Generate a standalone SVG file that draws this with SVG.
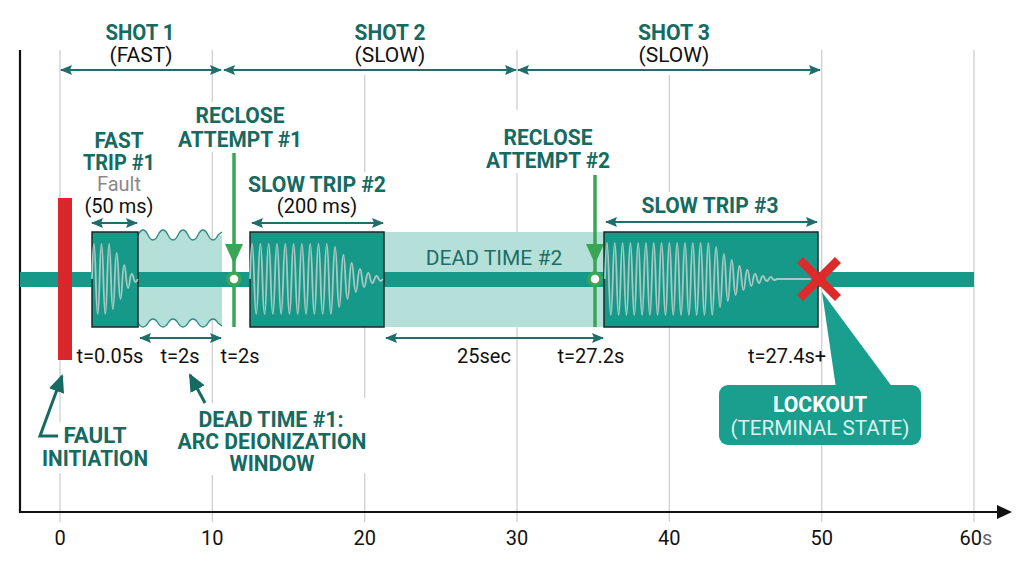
<svg xmlns="http://www.w3.org/2000/svg" width="1024" height="572" viewBox="0 0 1024 572">
<style>
.grid{stroke:#cfcfcf;stroke-width:1.3;fill:none}
.b{font-family:Roboto,"Liberation Sans",sans-serif;font-weight:700;fill:#156a62;font-size:22px;text-anchor:middle}
.r{font-family:Roboto,"Liberation Sans",sans-serif;font-weight:400;fill:#111;font-size:20px;text-anchor:middle}
.dim{stroke:#1f6e6a;stroke-width:2;fill:none;marker-start:url(#ah);marker-end:url(#ah)}
.box{fill:#17998a;stroke:#1a2a28;stroke-width:1.5}
.light{fill:#b5e0da}
.wave{fill:none;stroke:#a8c8c3;stroke-width:1.8;stroke-linejoin:round}
.green{stroke:#3aa655;stroke-width:3.5;fill:none}
.gfill{fill:#3aa655}
.ring{fill:#fff;stroke:#3aa655;stroke-width:3.5}
.call{stroke:#156a62;stroke-width:3;fill:none;marker-end:url(#big)}
</style>
<defs>
<marker id="ah" markerUnits="userSpaceOnUse" markerWidth="12" markerHeight="10" refX="11" refY="5" orient="auto-start-reverse" viewBox="0 0 12 10">
<path d="M0,0 L12,5 L0,10 L2,5 z" fill="#1f6e6a"/>
</marker>
<marker id="big" markerUnits="userSpaceOnUse" markerWidth="18" markerHeight="16" refX="16" refY="8" orient="auto" viewBox="0 0 18 16">
<path d="M0,0 L18,8 L0,16 z" fill="#156a62"/>
</marker>
</defs>
<rect width="1024" height="572" fill="#fff"/>

<g id="grid">
<path class="grid" d="M60,50 V422 M60,473 V522"/>
<path class="grid" d="M212.3,50 V102 M212.3,152 V403 M212.3,475 V522"/>
<path class="grid" d="M364.7,75 V172 M364.7,327 V398 M364.7,473 V522"/>
<path class="grid" d="M517,50 V110 M517,173 V522"/>
<path class="grid" d="M669.3,75 V192 M669.3,327 V522"/>
<path class="grid" d="M821.7,50 V522"/>
<path class="grid" d="M974,50 V522"/>
</g>

<g id="axes">
<line x1="20" y1="50" x2="20" y2="513" stroke="#111" stroke-width="2.2"/>
<line x1="19" y1="512" x2="1000" y2="512" stroke="#111" stroke-width="2.2"/>
<path d="M997,505 L1012,512 L997,519 z" fill="#111"/>
<text class="r" x="60" y="545">0</text>
<text class="r" x="212.3" y="545">10</text>
<text class="r" x="364.7" y="545">20</text>
<text class="r" x="517" y="545">30</text>
<text class="r" x="669.3" y="545">40</text>
<text class="r" x="821.7" y="545">50</text>
<text class="r" x="976" y="545">60<tspan fill="#666">s</tspan></text>
</g>

<g id="shots">
<text class="b" x="140" y="40" textLength="69" lengthAdjust="spacingAndGlyphs">SHOT 1</text>
<text class="r" x="141" y="62" style="font-size:21px">(FAST)</text>
<text class="b" x="390" y="40" textLength="71" lengthAdjust="spacingAndGlyphs">SHOT 2</text>
<text class="r" x="390" y="62" style="font-size:21px">(SLOW)</text>
<text class="b" x="674" y="40" textLength="72" lengthAdjust="spacingAndGlyphs">SHOT 3</text>
<text class="r" x="674" y="62" style="font-size:21px">(SLOW)</text>
</g>

<g id="connectors">
<line class="dim" x1="61" y1="70" x2="221" y2="70"/>
<line class="dim" x1="224" y1="70" x2="516" y2="70"/>
<line class="dim" x1="518" y1="70" x2="820" y2="70"/>
<line class="dim" x1="92" y1="223" x2="137" y2="223"/>
<line class="dim" x1="252" y1="223" x2="383" y2="223"/>
<line class="dim" x1="606" y1="222" x2="817" y2="222"/>
<line class="dim" x1="140" y1="338" x2="221" y2="338"/>
<line class="dim" x1="386" y1="338" x2="603" y2="338"/>
<polyline class="call" points="58,436 40,436 62,376"/>
<line class="call" x1="205" y1="403" x2="190" y2="375"/>
</g>

<g id="dead-time-1">
<path class="light" d="M138,235 q5,-10 10,0 q5,10 10,0 q5,-10 10,0 q5,10 10,0 q5,-10 10,0 q5,10 10,0 q5,-10 10,0 q5,10 10,0 L222,235 L222,327 L218,323 q-5,-8 -10,0 q-5,8 -10,0 q-5,-8 -10,0 q-5,8 -10,0 q-5,-8 -10,0 q-5,8 -10,0 q-5,-8 -10,0 q-5,8 -10,0 z"/>
<path fill="none" stroke="#2a8a80" stroke-width="1.3" d="M138,235 q5,-10 10,0 q5,10 10,0 q5,-10 10,0 q5,10 10,0 q5,-10 10,0 q5,10 10,0 q5,-10 10,0 q5,10 10,0 l4,-3"/>
<path fill="none" stroke="#2a8a80" stroke-width="1.3" d="M138,323 q5,8 10,0 q5,-8 10,0 q5,8 10,0 q5,-8 10,0 q5,8 10,0 q5,-8 10,0 q5,8 10,0 q5,-8 10,0 l4,3"/>
</g>

<g id="dead-time-2">
<rect class="light" x="384" y="232" width="220" height="95"/>
<text class="r" x="494" y="265" style="font-size:21px;fill:#1c6e66">DEAD TIME #2</text>
</g>

<g id="main-line">
<rect x="20" y="272" width="954" height="15" fill="#17998a"/>
</g>

<g id="fault-initiation">
<rect x="58" y="198" width="14" height="162" fill="#d8262b"/>
<text class="b" x="95" y="443" textLength="63" lengthAdjust="spacingAndGlyphs">FAULT</text>
<text class="b" x="95" y="466" textLength="106" lengthAdjust="spacingAndGlyphs">INITIATION</text>
<text class="r" x="110" y="363">t=0.05s</text>
</g>

<g id="fast-trip-1">
<text class="b" x="119" y="148" textLength="49" lengthAdjust="spacingAndGlyphs">FAST</text>
<text class="b" x="119" y="170" textLength="72" lengthAdjust="spacingAndGlyphs">TRIP #1</text>
<text class="r" x="119" y="191" style="fill:#8a8a8a">Fault</text>
<text class="r" x="119" y="213">(50 ms)</text>
<rect class="box" x="92" y="232" width="46" height="95"/>
<path class="wave" d="M92,279 q1.9,-70 3.8,0 q1.9,70 3.8,0 q1.9,-70 3.8,0 q1.9,70 3.8,0 q1.9,-70 3.8,0 q1.9,60 3.8,0 q1.9,-52 3.8,0 q1.9,40 3.8,0 q1.9,-28 3.8,0 q1.9,18 3.8,0 q1.9,-10 3.8,0 q1.9,6 3.8,0"/>
</g>

<g id="dead-time-1-label">
<text class="r" x="180" y="363">t=2s</text>
<text class="b" x="271" y="427" textLength="145" lengthAdjust="spacingAndGlyphs">DEAD TIME #1:</text>
<text class="b" x="272" y="449" textLength="189" lengthAdjust="spacingAndGlyphs">ARC DEIONIZATION</text>
<text class="b" x="272" y="471" textLength="85" lengthAdjust="spacingAndGlyphs">WINDOW</text>
</g>

<g id="reclose-1">
<text class="b" x="240" y="123" textLength="89" lengthAdjust="spacingAndGlyphs">RECLOSE</text>
<text class="b" x="240" y="147" textLength="124" lengthAdjust="spacingAndGlyphs">ATTEMPT #1</text>
<line class="green" x1="234" y1="153" x2="234" y2="327"/>
<path class="gfill" d="M225,244 L243,244 L234,264 z"/>
<circle class="ring" cx="234" cy="279" r="6"/>
<text class="r" x="240" y="363">t=2s</text>
</g>

<g id="slow-trip-2">
<text class="b" x="317" y="192" textLength="138" lengthAdjust="spacingAndGlyphs">SLOW TRIP #2</text>
<text class="r" x="317" y="213">(200 ms)</text>
<rect class="box" x="250" y="232" width="134" height="95"/>
<path class="wave" d="M250,279 q2.075,-70 4.15,0 q2.075,70 4.15,0 q2.075,-70 4.15,0 q2.075,70 4.15,0 q2.075,-70 4.15,0 q2.075,70 4.15,0 q2.075,-70 4.15,0 q2.075,70 4.15,0 q2.075,-70 4.15,0 q2.075,70 4.15,0 q2.075,-70 4.15,0 q2.075,70 4.15,0 q2.075,-70 4.15,0 q2.075,70 4.15,0 q2.075,-70 4.15,0 q2.075,70 4.15,0 q2.075,-70 4.15,0 q2.075,70 4.15,0 q2.075,-70 4.15,0 q2.075,70 4.15,0 q2.075,-64 4.15,0 q2.075,56 4.15,0 q2.075,-48 4.15,0 q2.075,40 4.15,0 q2.075,-32 4.15,0 q2.075,26 4.15,0 q2.075,-20 4.15,0 q2.075,16 4.15,0 q2.075,-12 4.15,0 q2.075,8 4.15,0 q2.075,-6 4.15,0 q2.075,4 4.15,0"/>
</g>

<g id="dead-time-2-label">
<text class="r" x="484" y="363">25sec</text>
</g>

<g id="reclose-2">
<text class="b" x="548" y="145" textLength="89" lengthAdjust="spacingAndGlyphs">RECLOSE</text>
<text class="b" x="548" y="168" textLength="124" lengthAdjust="spacingAndGlyphs">ATTEMPT #2</text>
<line class="green" x1="595" y1="175" x2="595" y2="327"/>
<path class="gfill" d="M586,244 L604,244 L595,264 z"/>
<circle class="ring" cx="595" cy="279" r="6"/>
<text class="r" x="591" y="363">t=27.2s</text>
</g>

<g id="slow-trip-3">
<text class="b" x="710" y="213" textLength="137" lengthAdjust="spacingAndGlyphs">SLOW TRIP #3</text>
<rect class="box" x="604" y="232" width="214" height="95"/>
<path class="wave" d="M605,279 q1.95,-72 3.9,0 q1.95,72 3.9,0 q1.95,-72 3.9,0 q1.95,72 3.9,0 q1.95,-72 3.9,0 q1.95,72 3.9,0 q1.95,-72 3.9,0 q1.95,72 3.9,0 q1.95,-72 3.9,0 q1.95,72 3.9,0 q1.95,-72 3.9,0 q1.95,72 3.9,0 q1.95,-72 3.9,0 q1.95,72 3.9,0 q1.95,-72 3.9,0 q1.95,72 3.9,0 q1.95,-72 3.9,0 q1.95,72 3.9,0 q1.95,-72 3.9,0 q1.95,72 3.9,0 q1.95,-72 3.9,0 q1.95,72 3.9,0 q1.95,-72 3.9,0 q1.95,72 3.9,0 q1.95,-72 3.9,0 q1.95,72 3.9,0 q1.95,-72 3.9,0 q1.95,72 3.9,0 q1.95,-64 3.9,0 q1.95,56 3.9,0 q1.95,-50 3.9,0 q1.95,44 3.9,0 q1.95,-38 3.9,0 q1.95,32 3.9,0 q1.95,-26 3.9,0 q1.95,22 3.9,0 q1.95,-18 3.9,0 q1.95,14 3.9,0 q1.95,-10 3.9,0 q1.95,8 3.9,0 q1.95,-6 3.9,0 q1.95,4 3.9,0 q1.95,-4 3.9,0 q1.95,2 3.9,0 h34"/>
<text class="r" x="787" y="363">t=27.4s+</text>
</g>

<g id="lockout">
<path d="M822,292 L836,388 L893,388 z" fill="#1a9e8e"/>
<rect x="719" y="385" width="202" height="60" rx="9" fill="#1a9e8e"/>
<text class="b" x="820" y="412" style="fill:#fff" textLength="94" lengthAdjust="spacingAndGlyphs">LOCKOUT</text>
<text class="r" x="820" y="435" style="fill:#d9f3ef" textLength="179" lengthAdjust="spacingAndGlyphs">(TERMINAL STATE)</text>
<path d="M800,260 L838,298 M838,260 L800,298" stroke="#dd2a2a" stroke-width="8.5"/>
</g>
</svg>
